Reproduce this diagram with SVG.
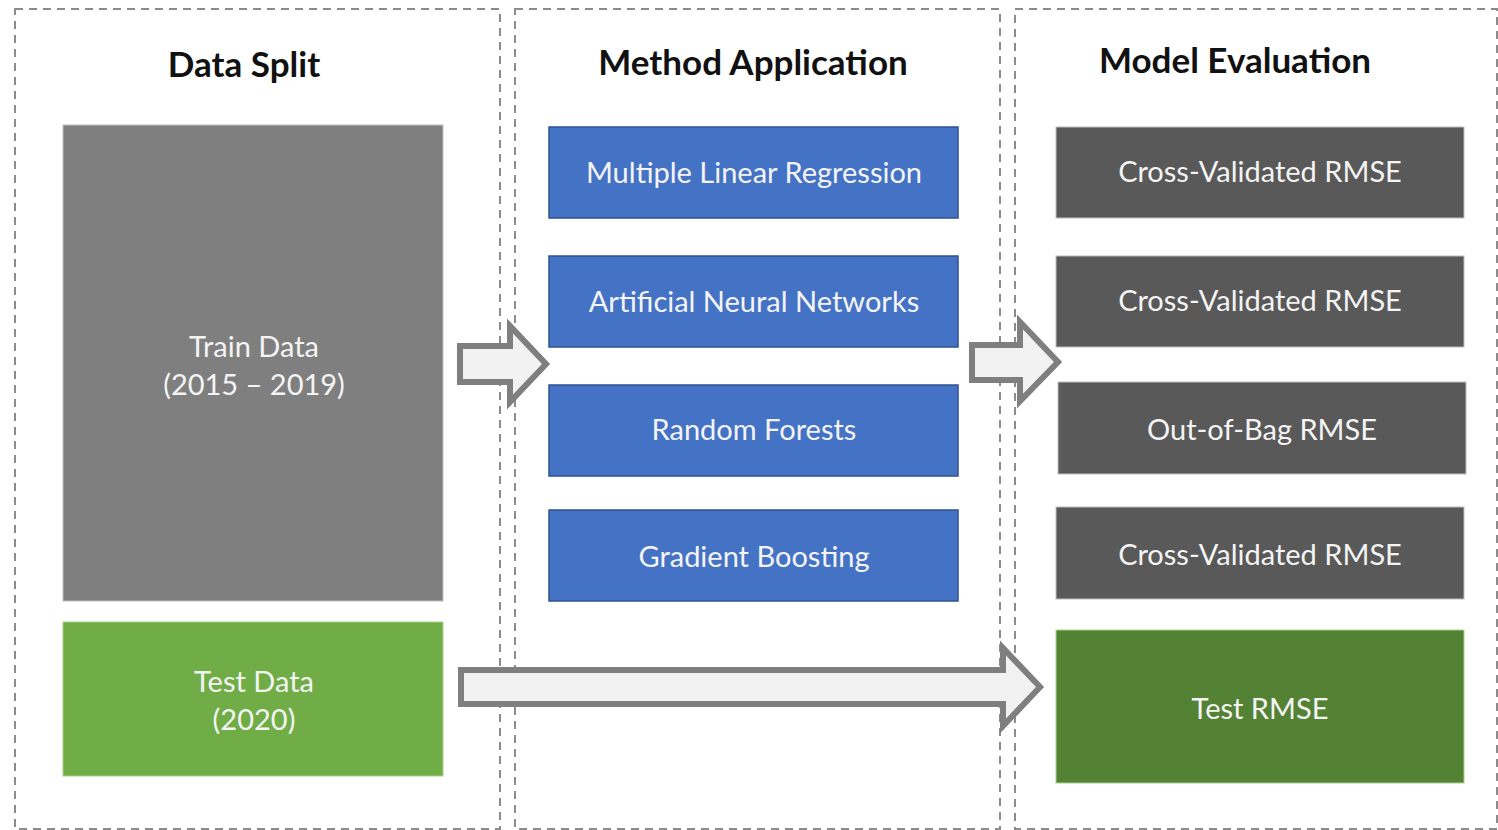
<svg xmlns="http://www.w3.org/2000/svg" width="1498" height="830" viewBox="0 0 1498 830">
<style>
.panel{fill:none;stroke:#8c8c8c;stroke-width:2;stroke-dasharray:8 6}
.title{font-family:Lato,"Liberation Sans",sans-serif;font-weight:bold;font-size:35px;fill:#111;text-anchor:middle}
.lbl{font-family:Lato,"Liberation Sans",sans-serif;font-size:29px;fill:#f4f4f4;text-anchor:middle}
.blue{fill:#4472c4;stroke:#2f528f;stroke-width:1.5}
.dark{fill:#595959;stroke:#bfbfbf;stroke-width:1}
.train{fill:#7f7f7f;stroke:#bfbfbf;stroke-width:1}
.test{fill:#70ad47;stroke:#a9d18e;stroke-width:1}
.testr{fill:#548235;stroke:#a9d18e;stroke-width:1}
.arrow{fill:#f2f2f2;stroke:#7f7f7f;stroke-width:6;stroke-linejoin:miter}
</style>
<rect width="1498" height="830" fill="#ffffff"/>
<g id="panels">
<rect class="panel" x="15" y="9" width="485" height="820"/>
<rect class="panel" x="515" y="9" width="485" height="820"/>
<rect class="panel" x="1015" y="9" width="482" height="820"/>
<text class="title" x="244" y="77">Data Split</text>
<text class="title" x="753" y="75">Method Application</text>
<text class="title" x="1235" y="73">Model Evaluation</text>
</g>
<g id="train"><rect class="train" x="63" y="125" width="380" height="476"/><text class="lbl" x="254" y="357">Train Data</text><text class="lbl" x="254" y="395">(2015 – 2019)</text></g>
<g id="testdata"><rect class="test" x="63" y="622" width="380" height="154"/><text class="lbl" x="254" y="692">Test Data</text><text class="lbl" x="254" y="730">(2020)</text></g>
<g id="mlr"><rect class="blue" x="549" y="127" width="409" height="91"/><text class="lbl" x="754" y="183">Multiple Linear Regression</text></g>
<g id="ann"><rect class="blue" x="549" y="256" width="409" height="91"/><text class="lbl" x="754" y="312">Artificial Neural Networks</text></g>
<g id="rf"><rect class="blue" x="549" y="385" width="409" height="91"/><text class="lbl" x="754" y="440">Random Forests</text></g>
<g id="gb"><rect class="blue" x="549" y="510" width="409" height="91"/><text class="lbl" x="754" y="567">Gradient Boosting</text></g>
<g id="cv1"><rect class="dark" x="1056" y="127" width="408" height="91"/><text class="lbl" x="1260" y="182">Cross-Validated RMSE</text></g>
<g id="cv2"><rect class="dark" x="1056" y="256" width="408" height="91"/><text class="lbl" x="1260" y="311">Cross-Validated RMSE</text></g>
<g id="oob"><rect class="dark" x="1058" y="382" width="408" height="92"/><text class="lbl" x="1262" y="440">Out-of-Bag RMSE</text></g>
<g id="cv3"><rect class="dark" x="1056" y="507" width="408" height="92"/><text class="lbl" x="1260" y="565">Cross-Validated RMSE</text></g>
<g id="testrmse"><rect class="testr" x="1056" y="630" width="408" height="153"/><text class="lbl" x="1260" y="719">Test RMSE</text></g>
<g id="connectors">
<polygon class="arrow" points="460,346 510,346 510,326 546,364 510,402 510,382 460,382"/>
<polygon class="arrow" points="972,345 1020,345 1020,322 1058,362 1020,401 1020,380 972,380"/>
<polygon class="arrow" points="461,670 1003,670 1003,648 1040,687 1003,726 1003,704 461,704"/>
</g>
</svg>
